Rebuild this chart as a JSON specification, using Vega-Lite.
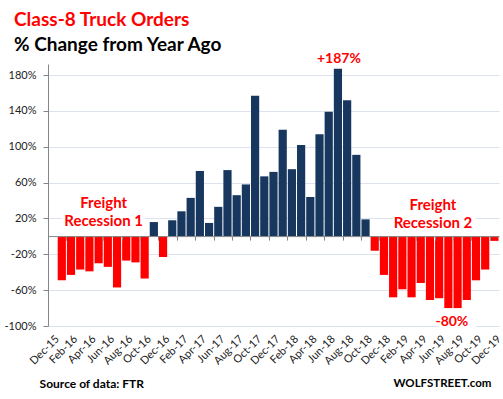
{
  "$schema": "https://vega.github.io/schema/vega-lite/v6.json",
  "width": 451,
  "height": 262,
  "autosize": "none",
  "padding": {"left": 48, "top": 64, "right": 4, "bottom": 73},
  "background": "white",
  "config": {"view": {"stroke": null}, "font": "Lato"},
  "title": {
    "text": "Class-8 Truck Orders",
    "subtitle": "% Change from Year Ago",
    "anchor": "start",
    "frame": "group",
    "dx": -34,
    "offset": -3,
    "font": "Lato",
    "fontSize": 19,
    "fontWeight": "bold",
    "color": "#FF0000",
    "subtitleFont": "Lato",
    "subtitleFontSize": 19,
    "subtitleFontWeight": "bold",
    "subtitleColor": "#000000",
    "subtitlePadding": 6
  },
  "datasets": {
    "orders": [
      {"month": "Jan-16", "pct": -49}, {"month": "Feb-16", "pct": -43}, {"month": "Mar-16", "pct": -37},
      {"month": "Apr-16", "pct": -39}, {"month": "May-16", "pct": -30}, {"month": "Jun-16", "pct": -34},
      {"month": "Jul-16", "pct": -57}, {"month": "Aug-16", "pct": -27}, {"month": "Sep-16", "pct": -29},
      {"month": "Oct-16", "pct": -47}, {"month": "Nov-16", "pct": 16}, {"month": "Dec-16", "pct": -23},
      {"month": "Jan-17", "pct": 18}, {"month": "Feb-17", "pct": 28}, {"month": "Mar-17", "pct": 43},
      {"month": "Apr-17", "pct": 73}, {"month": "May-17", "pct": 15}, {"month": "Jun-17", "pct": 33},
      {"month": "Jul-17", "pct": 74}, {"month": "Aug-17", "pct": 46}, {"month": "Sep-17", "pct": 58},
      {"month": "Oct-17", "pct": 157}, {"month": "Nov-17", "pct": 67}, {"month": "Dec-17", "pct": 72},
      {"month": "Jan-18", "pct": 119}, {"month": "Feb-18", "pct": 75}, {"month": "Mar-18", "pct": 102},
      {"month": "Apr-18", "pct": 44}, {"month": "May-18", "pct": 114}, {"month": "Jun-18", "pct": 139},
      {"month": "Jul-18", "pct": 187}, {"month": "Aug-18", "pct": 152}, {"month": "Sep-18", "pct": 91},
      {"month": "Oct-18", "pct": 19}, {"month": "Nov-18", "pct": -16}, {"month": "Dec-18", "pct": -43},
      {"month": "Jan-19", "pct": -68}, {"month": "Feb-19", "pct": -59}, {"month": "Mar-19", "pct": -68},
      {"month": "Apr-19", "pct": -52}, {"month": "May-19", "pct": -71}, {"month": "Jun-19", "pct": -69},
      {"month": "Jul-19", "pct": -80}, {"month": "Aug-19", "pct": -80}, {"month": "Sep-19", "pct": -71},
      {"month": "Oct-19", "pct": -49}, {"month": "Nov-19", "pct": -37}, {"month": "Dec-19", "pct": -5}
    ],
    "boxes": [
      {"month": "Jan-16", "month2": "Oct-16", "pct": 14, "pct2": 28},
      {"month": "Jan-19", "month2": "Oct-19", "pct": 14, "pct2": 28},
      {"month": "Jun-19", "month2": "Oct-19", "pct": -104, "pct2": -96}
    ],
    "freight1": [
      {"month": "May-16", "pct": 32.2, "label": "Freight"},
      {"month": "May-16", "pct": 11.3, "label": "Recession 1"}
    ],
    "freight2": [
      {"month": "May-19", "pct": 30, "label": "Freight"},
      {"month": "May-19", "pct": 9.4, "label": "Recession 2"}
    ],
    "peak": [{"month": "Jul-18", "pct": 193.5, "label": "+187%"}],
    "trough": [{"month": "Jul-19", "pct": -100, "label": "-80%"}],
    "source": [{"month": "Dec-15", "pct": -169, "label": "Source of data: FTR"}],
    "brand": [{"month": "Dec-19", "pct": -168.5, "label": "WOLFSTREET.com"}]
  },
  "encoding": {
    "x": {
      "field": "month",
      "type": "ordinal",
      "sort": null,
      "scale": {
        "domain": ["Dec-15","Jan-16","Feb-16","Mar-16","Apr-16","May-16","Jun-16","Jul-16","Aug-16","Sep-16","Oct-16","Nov-16","Dec-16",
                   "Jan-17","Feb-17","Mar-17","Apr-17","May-17","Jun-17","Jul-17","Aug-17","Sep-17","Oct-17","Nov-17","Dec-17",
                   "Jan-18","Feb-18","Mar-18","Apr-18","May-18","Jun-18","Jul-18","Aug-18","Sep-18","Oct-18","Nov-18","Dec-18",
                   "Jan-19","Feb-19","Mar-19","Apr-19","May-19","Jun-19","Jul-19","Aug-19","Sep-19","Oct-19","Nov-19","Dec-19"],
        "paddingInner": 0.11,
        "paddingOuter": 0.055
      },
      "axis": {
        "title": null,
        "values": ["Dec-15","Feb-16","Apr-16","Jun-16","Aug-16","Oct-16","Dec-16","Feb-17","Apr-17","Jun-17","Aug-17","Oct-17","Dec-17",
                   "Feb-18","Apr-18","Jun-18","Aug-18","Oct-18","Dec-18","Feb-19","Apr-19","Jun-19","Aug-19","Oct-19","Dec-19"],
        "bandPosition": 0,
        "labelOffset": 5,
        "offset": -89.9,
        "tickSize": 4,
        "tickColor": "#868686",
        "domainColor": "#868686",
        "labelAngle": -45,
        "labelAlign": "right",
        "labelBaseline": "middle",
        "labelPadding": 97,
        "labelFont": "Lato",
        "labelFontSize": 11,
        "labelColor": "#222222",
        "labelOverlap": false,
        "grid": false,
        "zindex": 1
      }
    },
    "y": {
      "field": "pct",
      "type": "quantitative",
      "scale": {"domain": [-100, 192.4], "nice": false, "zero": false},
      "axis": {
        "title": null,
        "values": [-100, -60, -20, 20, 60, 100, 140, 180],
        "labelExpr": "datum.value + '%'",
        "grid": true,
        "gridColor": "#DCE3EE",
        "domainColor": "#868686",
        "tickColor": "#868686",
        "tickSize": 5,
        "labelPadding": 7,
        "labelFont": "Lato",
        "labelFontSize": 11,
        "labelColor": "#222222"
      }
    }
  },
  "layer": [
    {
      "data": {"name": "boxes"},
      "mark": {"type": "rect", "color": "white"},
      "encoding": {"x2": {"field": "month2"}, "y2": {"field": "pct2"}}
    },
    {
      "data": {"name": "orders"},
      "mark": {"type": "bar"},
      "encoding": {
        "color": {"condition": {"test": "datum.pct < 0", "value": "#FF0000"}, "value": "#17375E"}
      }
    },
    {
      "data": {"name": "freight1"},
      "mark": {"type": "text", "font": "Lato", "fontSize": 15, "fontWeight": "bold", "color": "#FF0000", "align": "center", "baseline": "alphabetic", "dx": 5},
      "encoding": {"text": {"field": "label"}}
    },
    {
      "data": {"name": "freight2"},
      "mark": {"type": "text", "font": "Lato", "fontSize": 15, "fontWeight": "bold", "color": "#FF0000", "align": "center", "baseline": "alphabetic", "dx": 3},
      "encoding": {"text": {"field": "label"}}
    },
    {
      "data": {"name": "peak"},
      "mark": {"type": "text", "font": "Lato", "fontSize": 14, "fontWeight": "bold", "color": "#FF0000", "align": "center", "baseline": "alphabetic", "dx": 1},
      "encoding": {"text": {"field": "label"}}
    },
    {
      "data": {"name": "trough"},
      "mark": {"type": "text", "font": "Lato", "fontSize": 14, "fontWeight": "bold", "color": "#FF0000", "align": "center", "baseline": "alphabetic", "dx": 3.5},
      "encoding": {"text": {"field": "label"}}
    },
    {
      "data": {"name": "source"},
      "mark": {"type": "text", "font": "Lato", "fontSize": 12, "fontWeight": "bold", "color": "#000000", "align": "left", "baseline": "alphabetic", "dx": -13},
      "encoding": {"text": {"field": "label"}}
    },
    {
      "data": {"name": "brand"},
      "mark": {"type": "text", "font": "Lato", "fontSize": 11.5, "fontWeight": "bold", "color": "#000000", "align": "right", "baseline": "alphabetic", "dx": -3},
      "encoding": {"text": {"field": "label"}}
    }
  ]
}
